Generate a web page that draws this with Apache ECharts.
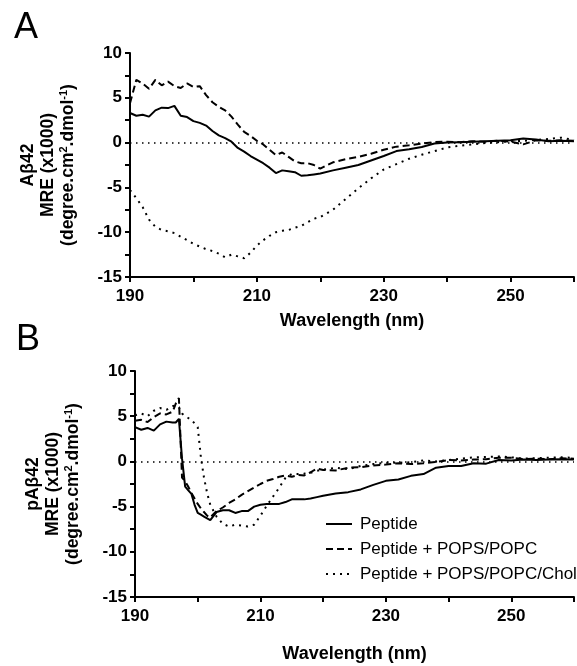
<!DOCTYPE html>
<html>
<head>
<meta charset="utf-8">
<script src="https://cdn.jsdelivr.net/npm/echarts@6/dist/echarts.min.js"></script>
<style>
  html, body { margin: 0; padding: 0; background: #fff; }
  #chart { width: 577px; height: 666px; }
</style>
</head>
<body>
<div id="chart"></div>
<script>
// wavelengths (nm), panel A
const wlA = [190, 191, 192, 193, 194, 195, 196, 197, 198, 199, 200, 201, 202, 203, 204, 205,
  206, 207, 208, 209, 210, 211, 212, 213, 214, 215, 216, 217, 218, 219, 220,
  222, 224, 226, 228, 230, 232, 234, 236, 238, 240, 242, 244, 246, 248, 250, 252, 254, 256, 258, 260];
// MRE x1000, A-beta42
const aPeptide = [3.3, 3.0, 3.1, 2.9, 3.6, 3.9, 3.85, 4.1, 3.0, 2.85, 2.4, 2.2, 1.9, 1.3, 0.8, 0.5,
  0.1, -0.6, -1.0, -1.5, -1.9, -2.3, -2.8, -3.4, -3.1, -3.2, -3.3, -3.7, -3.65, -3.55, -3.45,
  -3.1, -2.8, -2.5, -2.0, -1.5, -0.95, -0.75, -0.5, -0.1, 0.0, 0.05, 0.1, 0.15, 0.2, 0.25, 0.45, 0.35, 0.15, 0.2, 0.15];
const aLipid = [4.4, 7.0, 6.6, 6.0, 7.0, 6.4, 6.8, 6.3, 6.1, 6.6, 6.2, 6.3, 5.3, 4.5, 4.0, 3.6,
  2.9, 2.0, 1.2, 0.75, 0.2, -0.2, -0.8, -1.4, -1.1, -1.6, -2.1, -2.3, -2.3, -2.5, -2.9,
  -2.2, -1.85, -1.6, -1.25, -0.8, -0.45, -0.3, -0.1, 0.05, 0.1, 0.05, 0.15, 0.1, 0.2, 0.1, -0.2, 0.25, 0.2, 0.25, 0.2];
const aChol = [-5.3, -6.2, -7.2, -8.6, -9.4, -9.75, -9.9, -10.1, -10.5, -10.9, -11.3, -11.6, -11.9, -12.1, -12.4, -12.8,
  -12.5, -12.7, -12.9, -12.3, -11.5, -10.9, -10.4, -10.0, -9.85, -9.75, -9.5, -9.3, -8.9, -8.5, -8.3,
  -7.5, -6.3, -5.1, -4.0, -3.0, -2.4, -1.8, -1.35, -0.95, -0.55, -0.35, -0.2, -0.05, 0.05, 0.15, 0.2, 0.3, 0.4, 0.55, 0.3];

// wavelengths (nm), panel B
const wlB = [190, 191, 192, 193, 194, 195, 196,
  196.5, 197, 197.5, 198, 198.5, 199, 199.5, 200, 200.5, 201, 201.5, 202,
  203, 204, 205, 206, 207, 208, 209, 210, 211, 212, 213, 214, 215, 216, 217, 218, 219, 220,
  222, 224, 226, 228, 230, 232, 234, 236, 238, 240, 242, 244, 246, 248, 250, 252, 254, 256, 258, 260];
// MRE x1000, pA-beta42
const bPeptide = [3.8, 3.5, 3.7, 3.4, 4.1, 4.4, 4.3,
  4.3, 4.7, 0.3, -2.8, -3.2, -3.6, -4.8, -5.7, -5.9, -6.1, -6.3, -6.5,
  -5.6, -5.4, -5.4, -5.7, -5.5, -5.5, -5.0, -4.8, -4.7, -4.7, -4.7, -4.5, -4.2, -4.2, -4.2, -4.1, -3.95, -3.8,
  -3.55, -3.4, -3.1, -2.6, -2.15, -2.0, -1.6, -1.4, -0.7, -0.5, -0.5, -0.2, -0.25, 0.15, 0.1, 0.2, 0.15, 0.2, 0.25, 0.2];
const bLipid = [4.5, 4.6, 4.35, 4.9, 5.3, 5.2, 5.5,
  6.4, 7.0, -1.8, -2.2, -2.8, -3.5, -4.1, -4.7, -5.2, -5.6, -6.0, -6.2,
  -5.5, -5.1, -4.6, -4.2, -3.7, -3.3, -2.9, -2.5, -2.15, -1.95, -1.7, -1.55, -1.7, -1.5, -1.55, -1.2, -0.8, -0.95,
  -1.0, -0.7, -0.65, -0.45, -0.35, -0.2, -0.3, -0.2, -0.05, 0.15, 0.1, 0.2, 0.25, 0.4, 0.4, 0.25, 0.3, 0.25, 0.35, 0.3];
const bChol = [5.1, 5.3, 5.0, 5.6, 5.9, 5.7, 6.1,
  6.2, 6.0, 5.3, 5.0, 4.8, 4.6, 4.2, 3.8, 0.5, -1.8, -3.5, -4.8,
  -6.1, -6.9, -7.2, -7.0, -7.1, -7.2, -7.0, -6.0, -4.9, -3.9, -2.9, -1.8, -1.4, -1.4, -1.35, -1.25, -1.05, -0.9,
  -0.7, -0.85, -0.5, -0.3, -0.15, -0.15, -0.1, 0.1, 0.0, 0.15, 0.3, 0.45, 0.5, 0.55, 0.45, 0.3, 0.35, 0.4, 0.45, 0.4];

const names = ['Peptide', 'Peptide + POPS/POPC', 'Peptide + POPS/POPC/Chol'];
const xLabels = [190, 210, 230, 250];

const font = '"Liberation Sans", Arial, sans-serif';
const dashes = ['solid', [7, 4], [2, 5]];

const pair = (xs, ys) => xs.map((x, i) => [x, ys[i]]);

function line(name, idx, xs, ys, k) {
    const s = {
        name: name,
        type: 'line',
        xAxisIndex: idx,
        yAxisIndex: idx,
        data: pair(xs, ys),
        symbol: 'none',
        animation: false,
        itemStyle: { color: '#000' },
        lineStyle: { color: '#000', width: 2, type: dashes[k] }
    };
    if (k === 0) {
        // dotted zero line
        s.markLine = {
            silent: true,
            symbol: 'none',
            label: { show: false },
            lineStyle: { color: '#000', width: 1.5, type: [1.5, 4.5] },
            data: [{ yAxis: 0 }]
        };
    }
    return s;
}

function xAxis(idx, gap) {
    return {
        type: 'value', gridIndex: idx, min: 190, max: 260, interval: 10,
        name: 'Wavelength (nm)', nameLocation: 'middle', nameGap: gap,
        nameTextStyle: { fontFamily: font, fontWeight: 'bold', fontSize: 18, color: '#000' },
        axisLine: { onZero: false, lineStyle: { color: '#000', width: 2 } },
        axisTick: { length: 5, lineStyle: { color: '#000', width: 2 } },
        axisLabel: {
            margin: 11, fontFamily: font, fontWeight: 'bold', fontSize: 17, color: '#000',
            formatter: v => (xLabels.indexOf(v) >= 0 ? String(v) : '')
        },
        splitLine: { show: false }
    };
}

function yAxis(idx, title) {
    return {
        type: 'value', gridIndex: idx, min: -15, max: 10, interval: 5,
        name: title + '\nMRE (x1000)\n(degree.cm{sup|2}.dmol{sup|-1})',
        nameLocation: 'middle', nameGap: 52, nameRotate: 90,
        nameTextStyle: {
            fontFamily: font, fontWeight: 'bold', fontSize: 17.5, lineHeight: 20, color: '#000', align: 'center',
            rich: {
                sup: { fontFamily: font, fontWeight: 'bold', fontSize: 11, lineHeight: 12, verticalAlign: 'top', color: '#000' }
            }
        },
        axisLine: { onZero: false, lineStyle: { color: '#000', width: 2 } },
        axisTick: { length: 5, lineStyle: { color: '#000', width: 2 } },
        minorTick: { show: true, splitNumber: 2, length: 5, lineStyle: { color: '#000', width: 2 } },
        axisLabel: { margin: 8, fontFamily: font, fontWeight: 'bold', fontSize: 17, color: '#000' },
        splitLine: { show: false }
    };
}

const chart = echarts.init(document.getElementById('chart'));
chart.setOption({
    backgroundColor: '#fff',
    animation: false,
    grid: [
        { left: 130, top: 53, width: 450, height: 224 },
        { left: 135, top: 371, width: 448.5, height: 226 }
    ],
    xAxis: [xAxis(0, 35), xAxis(1, 48)],
    yAxis: [yAxis(0, 'A\u03b242'), yAxis(1, 'pA\u03b242')],
    legend: {
        orient: 'vertical', left: 320, top: 510,
        itemWidth: 26, itemHeight: 14, itemGap: 7,
        data: names,
        itemStyle: { opacity: 0 },
        textStyle: { fontFamily: font, fontSize: 17, lineHeight: 18, color: '#000', padding: [0, 0, 0, 3] }
    },
    graphic: [
        { type: 'text', left: 14, top: 10, style: { text: 'A', font: '36px ' + font, fill: '#000' } },
        { type: 'text', left: 16, top: 322, style: { text: 'B', font: '36px ' + font, fill: '#000' } }
    ],
    series: [
        line(names[0], 0, wlA, aPeptide, 0),
        line(names[1], 0, wlA, aLipid, 1),
        line(names[2], 0, wlA, aChol, 2),
        line(names[0], 1, wlB, bPeptide, 0),
        line(names[1], 1, wlB, bLipid, 1),
        line(names[2], 1, wlB, bChol, 2)
    ]
});
</script>
</body>
</html>
